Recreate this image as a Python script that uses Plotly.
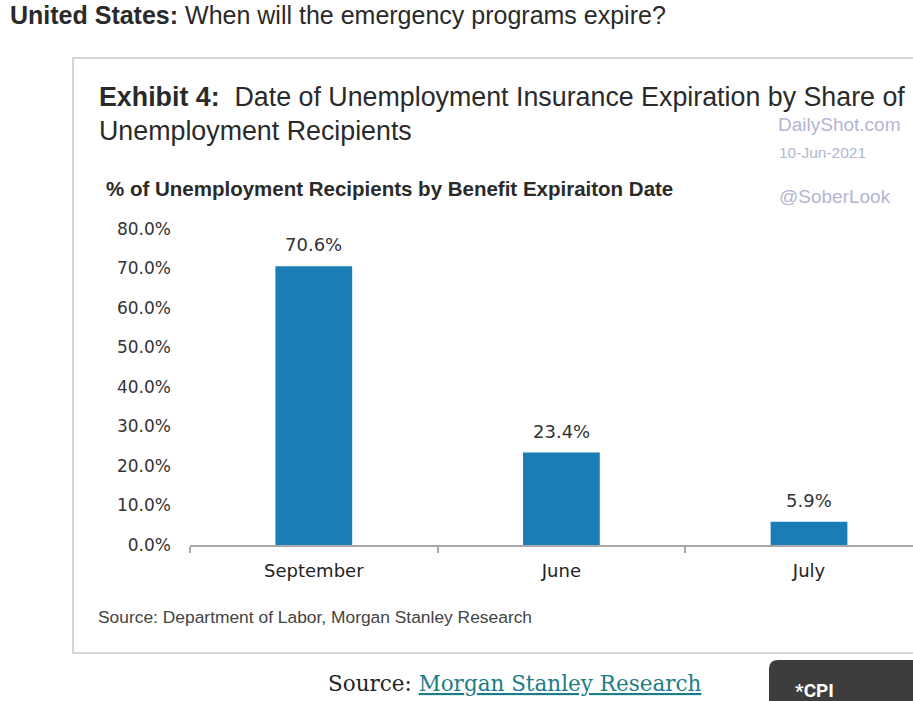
import plotly.graph_objects as go

categories = ["September", "June", "July"]
values = [70.6, 23.4, 5.9]
y_ticks = [0, 10, 20, 30, 40, 50, 60, 70, 80]
y_tick_labels = [f"{v:.1f}%" for v in y_ticks]

W, H = 913, 701
L, R, T, B = 190, 0, 229, 701 - 545
PW, PH = W - L - R, H - T - B


def px(x):
    return (x - L) / PW


def py(y):
    return (H - B - y) / PH


BAR = "#1a7db6"
DARK = "#2a2a2a"

fig = go.Figure()
fig.add_trace(go.Bar(x=categories, y=values, marker=dict(color=BAR, line=dict(width=0)),
                     hoverinfo="skip"))

ann = []
for c, v in zip(categories, values):
    ann.append(dict(x=c, y=v, xref="x", yref="y", text=f"{v:.1f}%", showarrow=False,
                    yanchor="bottom", yshift=9,
                    font=dict(family="DejaVu Sans", size=18, color="#333")))


def text(x, y, s, size, color=DARK, family="Liberation Sans", xanchor="left"):
    ann.append(dict(x=px(x), y=py(y), xref="paper", yref="paper", text=s, showarrow=False,
                    xanchor=xanchor, yanchor="middle", font=dict(family=family, size=size, color=color)))


text(8, 15, "<b>United States:</b> When will the emergency programs expire?", 25)
text(97, 97, "<b>Exhibit 4:</b>  Date of Unemployment Insurance Expiration by Share of", 26.8,
     family="Liberation Sans Narrow, Liberation Sans")
text(97, 131, "Unemployment Recipients", 26.8, family="Liberation Sans Narrow, Liberation Sans")
text(104, 188, "<b>% of Unemployment Recipients by Benefit Expiraiton Date</b>", 20.5,
     family="Liberation Sans")
text(776, 124, "DailyShot.com", 19, color="#b3b5d3")
text(777, 152, "10-Jun-2021", 15.5, color="#b3b5d3")
text(777, 196, "@SoberLook", 19, color="#b3b5d3")
text(96, 617, "Source: Department of Labor, Morgan Stanley Research", 17.4, color="#444",
     family="Liberation Sans")
text(326, 683, "Source: <span style='color:#1b7d87;text-decoration:underline'>Morgan Stanley Research</span>",
     21.5, color="#222", family="DejaVu Serif")
text(793, 690, "<b>*CPI</b>", 19, color="#ffffff", family="Roboto")

shapes = [
    dict(type="rect", xref="paper", yref="paper", x0=px(73), x1=px(930), y0=py(653), y1=py(58),
         line=dict(color="#c8c8c8", width=1.5), layer="below"),
    dict(type="path", xref="paper", yref="paper",
         path=(f"M {px(769)} {py(720)} L {px(769)} {py(669)} Q {px(769)} {py(660)} {px(778)} {py(660)} "
               f"L {px(930)} {py(660)} L {px(930)} {py(720)} Z"),
         fillcolor="#3d3d3d", line=dict(width=0)),
]

fig.update_layout(
    width=W, height=H,
    margin=dict(l=L, r=R, t=T, b=B, pad=0),
    paper_bgcolor="white", plot_bgcolor="white",
    showlegend=False,
    bargap=0.69,
    annotations=ann,
    shapes=shapes,
    xaxis=dict(range=[-0.5, 2.42], showline=True, linecolor="#a8a8a8", linewidth=1.5,
               ticks="outside", ticklen=6, tickcolor="#a8a8a8", tickwidth=1.5, tickson="boundaries",
               showgrid=False, zeroline=False, ticklabelstandoff=9,
               tickfont=dict(family="DejaVu Sans", size=18, color="#222")),
    yaxis=dict(range=[0, 80], tickvals=y_ticks, ticktext=y_tick_labels, showgrid=False,
               zeroline=False, showline=False, ticks="", ticklabelstandoff=18,
               tickfont=dict(family="DejaVu Sans", size=17, color="#333")),
)

fig.write_html("out.html", config={"displayModeBar": False},
               post_script="document.body.style.margin='0';document.body.style.overflow='hidden';")
